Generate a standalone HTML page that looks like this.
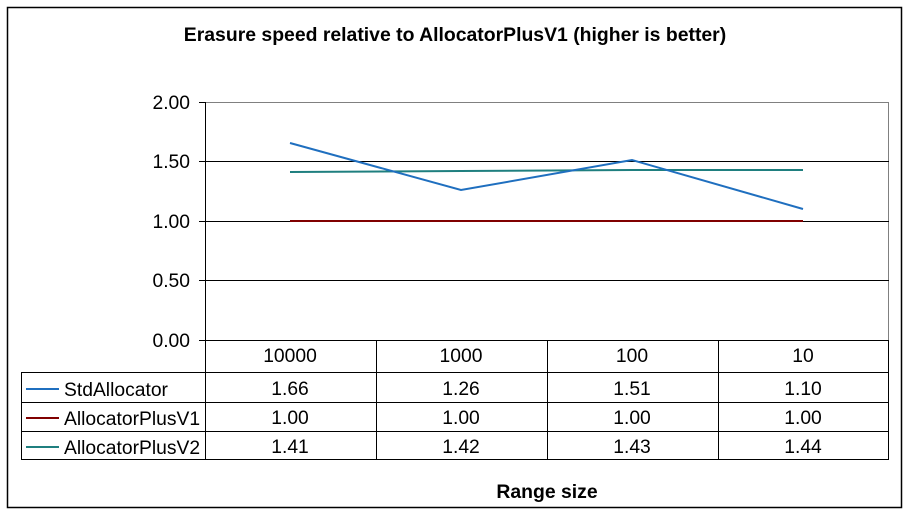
<!DOCTYPE html>
<html><head><meta charset="utf-8"><style>
body{margin:0;background:#fff;}
svg{display:block;font-family:"Liberation Sans",Arial,sans-serif;}
</style></head><body>
<svg width="910" height="515" viewBox="0 0 910 515" xmlns="http://www.w3.org/2000/svg">
<rect x="0" y="0" width="910" height="515" fill="#fff"/>
<rect x="7.5" y="7.5" width="894" height="500" fill="none" stroke="#000" stroke-width="1.5"/>
<text x="455" y="41" text-anchor="middle" font-size="19.4" font-weight="bold">Erasure speed relative to AllocatorPlusV1 (higher is better)</text>
<line x1="205" y1="102.5" x2="889" y2="102.5" stroke="#808080"/>
<line x1="888.5" y1="102" x2="888.5" y2="340" stroke="#808080"/>
<g stroke="#000" stroke-width="1">
<line x1="205" y1="161.5" x2="889" y2="161.5"/>
<line x1="205" y1="221.5" x2="889" y2="221.5"/>
<line x1="205" y1="280.5" x2="889" y2="280.5"/>
<line x1="205.5" y1="102" x2="205.5" y2="340"/>
<line x1="199" y1="102.5" x2="205" y2="102.5"/>
<line x1="199" y1="161.5" x2="205" y2="161.5"/>
<line x1="199" y1="221.5" x2="205" y2="221.5"/>
<line x1="199" y1="280.5" x2="205" y2="280.5"/>
<line x1="199" y1="340.5" x2="889" y2="340.5"/>
</g>
<g font-size="19.3" text-anchor="end">
<text x="190" y="109">2.00</text>
<text x="190" y="168">1.50</text>
<text x="190" y="228">1.00</text>
<text x="190" y="287">0.50</text>
<text x="190" y="347">0.00</text>
</g>
<polyline fill="none" stroke="#800000" stroke-width="2" points="290,221 461,221 632,221 803,221"/>
<polyline fill="none" stroke="#1f7f7f" stroke-width="2" points="290,172 461,171 632,170 803,170"/>
<polyline fill="none" stroke="#1f6fbf" stroke-width="2" points="290,143 461,190 632,160 803,209"/>
<g stroke="#000" stroke-width="1" fill="none">
<line x1="21" y1="372.5" x2="889" y2="372.5"/>
<line x1="21" y1="402.5" x2="889" y2="402.5"/>
<line x1="21" y1="431.5" x2="889" y2="431.5"/>
<line x1="21" y1="459.5" x2="889" y2="459.5"/>
<line x1="21.5" y1="372" x2="21.5" y2="460"/>
<line x1="205.5" y1="340" x2="205.5" y2="460"/>
<line x1="376.5" y1="340" x2="376.5" y2="460"/>
<line x1="547.5" y1="340" x2="547.5" y2="460"/>
<line x1="718.5" y1="340" x2="718.5" y2="460"/>
<line x1="888.5" y1="340" x2="888.5" y2="460"/>
</g>
<g font-size="19.3" text-anchor="middle">
<text x="290" y="362">10000</text><text x="461" y="362">1000</text><text x="632" y="362">100</text><text x="803" y="362">10</text>
<text x="290" y="395">1.66</text><text x="461" y="395">1.26</text><text x="632" y="395">1.51</text><text x="803" y="395">1.10</text>
<text x="290" y="424">1.00</text><text x="461" y="424">1.00</text><text x="632" y="424">1.00</text><text x="803" y="424">1.00</text>
<text x="290" y="453">1.41</text><text x="461" y="453">1.42</text><text x="632" y="453">1.43</text><text x="803" y="453">1.44</text>
</g>
<line x1="26" y1="389" x2="59" y2="389" stroke="#1f6fbf" stroke-width="2"/>
<line x1="26" y1="418" x2="59" y2="418" stroke="#800000" stroke-width="2"/>
<line x1="26" y1="447" x2="59" y2="447" stroke="#1f7f7f" stroke-width="2"/>
<g font-size="19.3">
<text x="64" y="396">StdAllocator</text>
<text x="64" y="425">AllocatorPlusV1</text>
<text x="64" y="454">AllocatorPlusV2</text>
</g>
<text x="547" y="498" text-anchor="middle" font-size="19.4" font-weight="bold">Range size</text>
</svg>
</body></html>
